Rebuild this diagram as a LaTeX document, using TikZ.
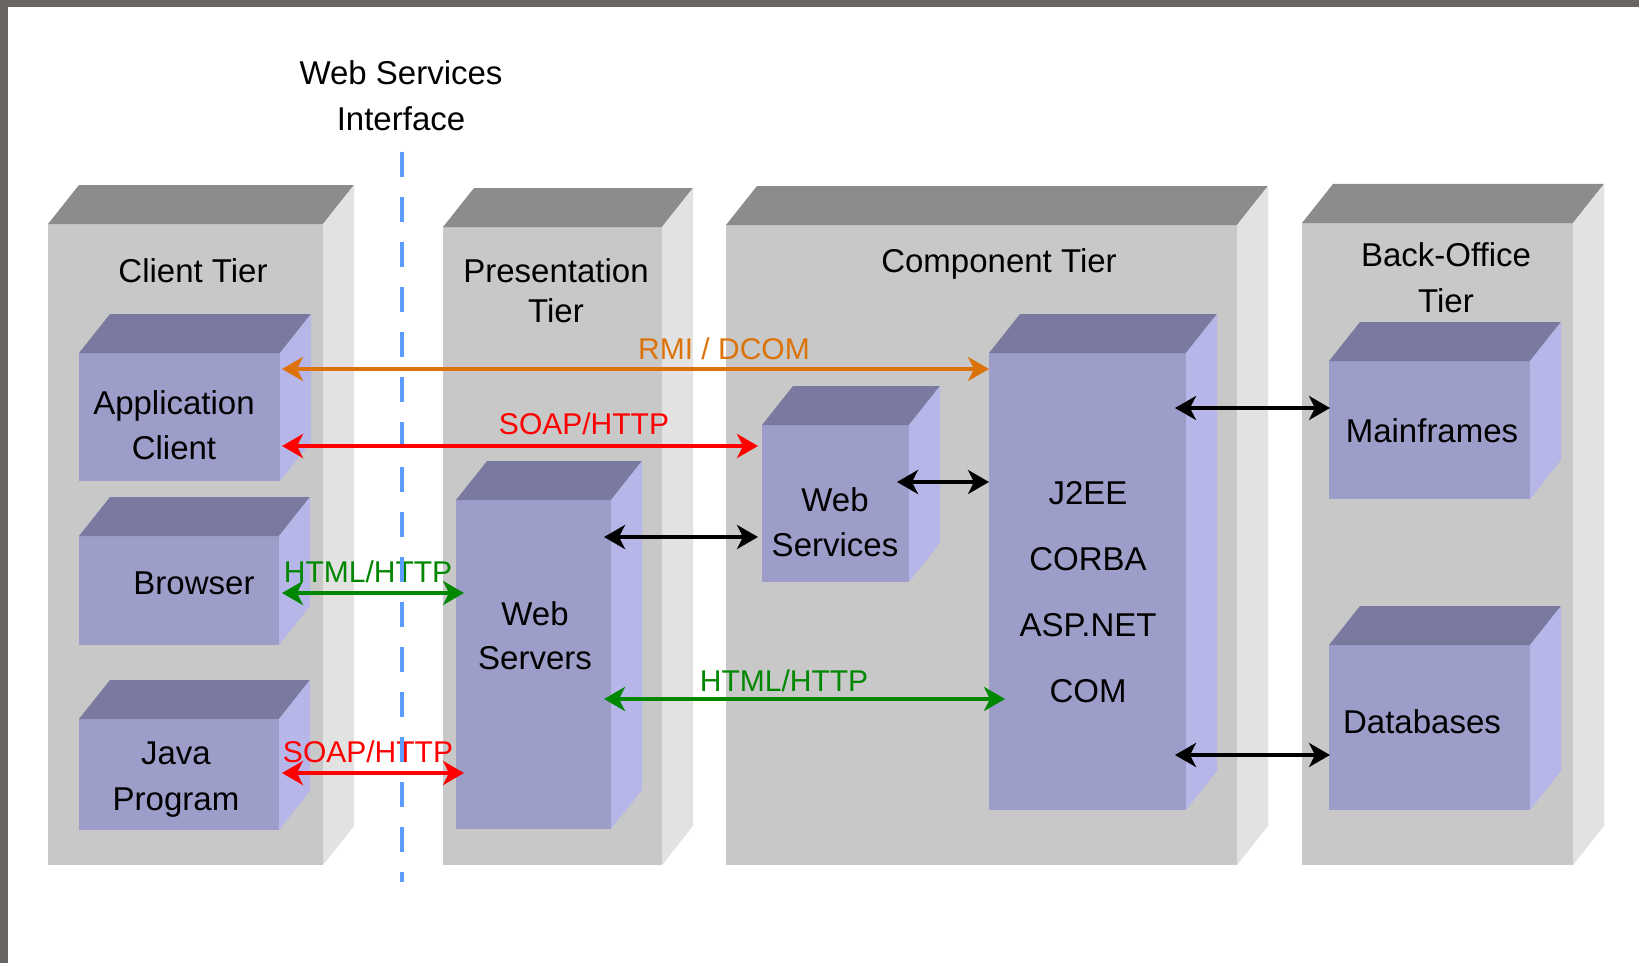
\documentclass[tikz,border=0pt]{standalone}
\usepackage{fontspec}
\setmainfont{Liberation Sans}
\usetikzlibrary{arrows.meta,calc}
\definecolor{frame}{RGB}{105,101,99}
\definecolor{tierfront}{RGB}{200,200,200}
\definecolor{tiertop}{RGB}{140,140,140}
\definecolor{tierside}{RGB}{226,226,226}
\definecolor{boxfront}{RGB}{157,157,201}
\definecolor{boxtop}{RGB}{122,122,160}
\definecolor{boxside}{RGB}{182,182,232}
\definecolor{wsblue}{RGB}{92,156,255}
\definecolor{rmiorange}{RGB}{220,115,10}
\definecolor{httpgreen}{RGB}{0,135,0}
\definecolor{soapred}{RGB}{255,0,0}
% 3D box: x1 y1 x2 y2 front top side
\newcommand\drawcube[7]{%
  \fill[#5] (#1,#2) rectangle (#3,#4);
  \fill[#6] (#1,#2) -- (#1+31,#2-39) -- (#3+31,#2-39) -- (#3,#2) -- cycle;
  \fill[#7] (#3,#2) -- (#3+31,#2-39) -- (#3+31,#4-39) -- (#3,#4) -- cycle;
}
\tikzset{
  face/.style={inner sep=0pt, outer sep=0pt, minimum width=#1},
  lbl/.style={font=\fontsize{33}{45}\selectfont, align=center, anchor=base, inner sep=0pt},
  proto/.style={font=\fontsize{30}{36}\selectfont, anchor=base, inner sep=0pt},
  conn/.style={line width=3.5pt, {Stealth[length=21pt,width=24pt,inset=6pt]}-{Stealth[length=21pt,width=24pt,inset=6pt]}},
}
\begin{document}
\begin{tikzpicture}[x=1pt,y=-1pt]
\useasboundingbox (0,0) rectangle (1639,963);
\fill[white] (0,0) rectangle (1639,963);
\fill[frame] (0,0) rectangle (1639,7);
\fill[frame] (0,0) rectangle (8,963);

% tiers
\drawcube{48}{224}{323}{865}{tierfront}{tiertop}{tierside}
\drawcube{443}{227}{662}{865}{tierfront}{tiertop}{tierside}
\drawcube{726}{225}{1237}{865}{tierfront}{tiertop}{tierside}
\drawcube{1302}{223}{1573}{865}{tierfront}{tiertop}{tierside}

% inner boxes
\drawcube{79}{353}{280}{481}{boxfront}{boxtop}{boxside}
\drawcube{79}{536}{279}{645}{boxfront}{boxtop}{boxside}
\drawcube{79}{719}{279}{830}{boxfront}{boxtop}{boxside}
\drawcube{456}{500}{611}{829}{boxfront}{boxtop}{boxside}
\drawcube{762}{425}{909}{582}{boxfront}{boxtop}{boxside}
\drawcube{989}{353}{1186}{810}{boxfront}{boxtop}{boxside}
\drawcube{1329}{361}{1530}{499}{boxfront}{boxtop}{boxside}
\drawcube{1329}{645}{1530}{810}{boxfront}{boxtop}{boxside}

% named front faces
\node[face=201pt, minimum height=128pt] (app) at (179.5,417) {};
\node[face=200pt, minimum height=109pt] (browser) at (179,590.5) {};
\node[face=200pt, minimum height=111pt] (java) at (179,774.5) {};
\node[face=155pt, minimum height=329pt] (websrv) at (533.5,664.5) {};
\node[face=147pt, minimum height=157pt] (websvc) at (835.5,503.5) {};
\node[face=197pt, minimum height=457pt] (j2ee) at (1087.5,581.5) {};
\node[face=201pt, minimum height=138pt] (mainframes) at (1429.5,430) {};
\node[face=201pt, minimum height=165pt] (databases) at (1429.5,727.5) {};

% tier labels (base = baseline of last line)
\node[lbl] (title) at (401,131) {Web Services\\[1pt]Interface};
\node[lbl] (clienttier) at (193,282) {Client Tier};
\node[lbl] (prestier) at (556,322) {Presentation\\[-5pt]Tier};
\node[lbl] (comptier) at (999,272) {Component Tier};
\node[lbl] (backtier) at (1446,312) {Back-Office\\[1pt]Tier};

% box labels
\node[lbl] (applbl) at (174,459) {Application\\Client};
\node[lbl] (browserlbl) at (194,594) {Browser};
\node[lbl] (javalbl) at (176,810) {Java\\[1pt]Program};
\node[lbl] (websrvlbl) at (535,669) {Web\\[-1pt]Servers};
\node[lbl] (websvclbl) at (835,556) {Web\\Services};
\node[lbl, font=\fontsize{33}{66}\selectfont] (j2eelbl) at (1088,702) {J2EE\\CORBA\\ASP.NET\\COM};
\node[lbl] (mainlbl) at (1432,442) {Mainframes};
\node[lbl] (dblbl) at (1422,733) {Databases};

% protocol labels
\node[proto, text=rmiorange] (rmilbl) at (724,359) {RMI / DCOM};
\node[proto, text=soapred] (soap1lbl) at (584,434) {SOAP/HTTP};
\node[proto, text=httpgreen] (html1lbl) at (368,582) {HTML/HTTP};
\node[proto, text=httpgreen] (html2lbl) at (784,691) {HTML/HTTP};
\node[proto, text=soapred] (soap2lbl) at (368,762) {SOAP/HTTP};

% web services interface line
\coordinate (wstop) at (402,152);
\coordinate (wsbot) at (402,882);
\draw[wsblue, line width=4.5pt, dash pattern=on 25pt off 20pt] (wstop) -- (wsbot);

% connectors
\draw[conn, rmiorange] ($(app.east |- 0,369)+(2,0)$) -- (j2ee.west |- 0,369);
\draw[conn, soapred] ($(app.east |- 0,446)+(2,0)$) -- ($(websvc.west |- 0,446)+(-4,0)$);
\draw[conn, black] ($(websvc.east |- 0,482)+(-12,0)$) -- (j2ee.west |- 0,482);
\draw[conn, black] ($(websrv.east |- 0,537)+(-7,0)$) -- ($(websvc.west |- 0,537)+(-4,0)$);
\draw[conn, httpgreen] ($(browser.east |- 0,593)+(3,0)$) -- ($(websrv.west |- 0,593)+(8,0)$);
\draw[conn, httpgreen] ($(websrv.east |- 0,699)+(-7,0)$) -- ($(j2ee.west |- 0,699)+(16,0)$);
\draw[conn, soapred] ($(java.east |- 0,773)+(3,0)$) -- ($(websrv.west |- 0,773)+(8,0)$);
\draw[conn, black] ($(j2ee.east |- 0,408)+(-11,0)$) -- ($(mainframes.west |- 0,408)+(1,0)$);
\draw[conn, black] ($(j2ee.east |- 0,755)+(-11,0)$) -- ($(databases.west |- 0,755)+(1,0)$);
\end{tikzpicture}
\end{document}
